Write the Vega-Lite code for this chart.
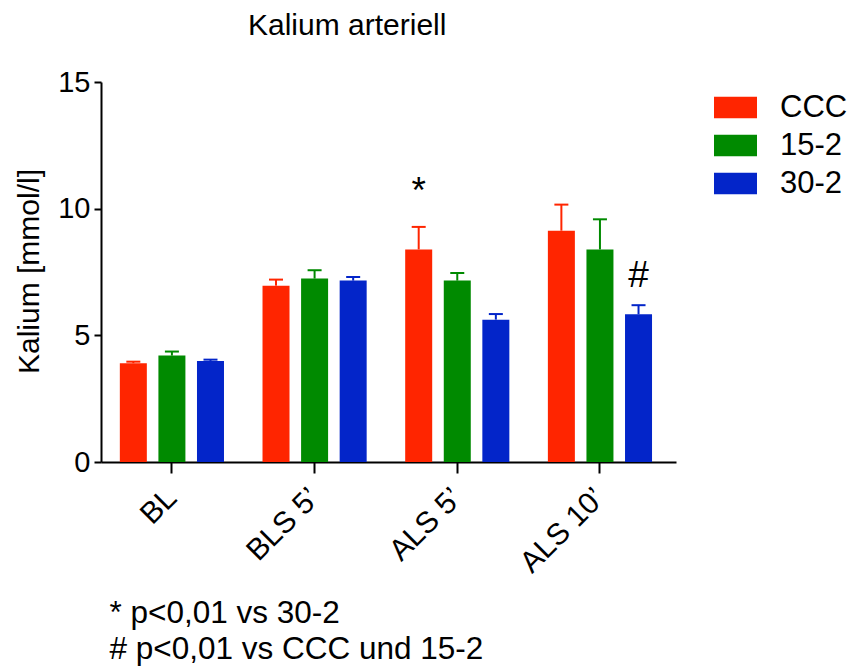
{
  "$schema": "https://vega.github.io/schema/vega-lite/v6.json",
  "width": 575,
  "height": 380,
  "autosize": {"type": "none"},
  "padding": {"left": 101, "top": 82, "right": 174, "bottom": 204},
  "background": "white",
  "config": {
    "font": "Liberation Sans",
    "view": {"stroke": null},
    "axis": {
      "grid": false,
      "domainColor": "black",
      "domainWidth": 2,
      "tickColor": "black",
      "tickWidth": 2,
      "labelColor": "black",
      "titleColor": "black",
      "labelFont": "Liberation Sans",
      "titleFont": "Liberation Sans",
      "titleFontWeight": "normal"
    }
  },
  "title": {
    "text": "Kalium arteriell",
    "anchor": "start",
    "frame": "group",
    "dx": 147,
    "fontSize": 30,
    "fontWeight": "normal",
    "font": "Liberation Sans",
    "color": "black",
    "baseline": "alphabetic",
    "offset": 3
  },
  "datasets": {
    "bars": [
      {"time": "BL", "group": "CCC", "mean": 3.90, "upper": 3.96},
      {"time": "BL", "group": "15-2", "mean": 4.20, "upper": 4.36},
      {"time": "BL", "group": "30-2", "mean": 3.99, "upper": 4.04},
      {"time": "BLS 5’", "group": "CCC", "mean": 6.96, "upper": 7.20},
      {"time": "BLS 5’", "group": "15-2", "mean": 7.24, "upper": 7.57},
      {"time": "BLS 5’", "group": "30-2", "mean": 7.16, "upper": 7.30},
      {"time": "ALS 5’", "group": "CCC", "mean": 8.39, "upper": 9.28},
      {"time": "ALS 5’", "group": "15-2", "mean": 7.16, "upper": 7.46},
      {"time": "ALS 5’", "group": "30-2", "mean": 5.62, "upper": 5.84},
      {"time": "ALS 10’", "group": "CCC", "mean": 9.13, "upper": 10.16},
      {"time": "ALS 10’", "group": "15-2", "mean": 8.39, "upper": 9.58},
      {"time": "ALS 10’", "group": "30-2", "mean": 5.83, "upper": 6.19}
    ],
    "notes": [
      {"time": "ALS 5’", "group": "CCC", "label": "*", "pos": 10.22},
      {"time": "ALS 10’", "group": "30-2", "label": "#", "pos": 6.9}
    ]
  },
  "encoding": {
    "x": {
      "field": "time",
      "type": "nominal",
      "sort": ["BL", "BLS 5’", "ALS 5’", "ALS 10’"],
      "scale": {"paddingInner": 0.27, "paddingOuter": 0.15, "align": 0.44},
      "axis": {
        "labelAngle": -45,
        "labelAlign": "right",
        "labelBaseline": "middle",
        "labelFontSize": 30,
        "labelPadding": 20,
        "tickSize": 11,
        "title": ["* p<0,01 vs 30-2", "# p<0,01 vs CCC und 15-2"],
        "titleFontSize": 31.5,
        "titleAlign": "left",
        "titleAnchor": "start",
        "titleAngle": 0,
        "titleBaseline": "top",
        "titleLineHeight": 36,
        "titleX": 8,
        "titleY": 135
      }
    },
    "xOffset": {
      "field": "group",
      "type": "nominal",
      "sort": ["CCC", "15-2", "30-2"],
      "scale": {"paddingInner": 0.3, "paddingOuter": 0}
    },
    "color": {
      "field": "group",
      "type": "nominal",
      "sort": ["CCC", "15-2", "30-2"],
      "scale": {"domain": ["CCC", "15-2", "30-2"], "range": ["#ff2500", "#008a00", "#0325c9"]},
      "legend": {
        "title": null,
        "orient": "none",
        "legendX": 613,
        "legendY": 4,
        "symbolType": "M-1,-0.5H1V0.5H-1Z",
        "symbolSize": 1849,
        "symbolStrokeWidth": 0,
        "symbolOpacity": 1,
        "labelFontSize": 31,
        "labelFont": "Liberation Sans",
        "labelColor": "black",
        "labelOffset": 23,
        "rowPadding": 1,
        "padding": 0
      }
    }
  },
  "layer": [
    {
      "data": {"name": "bars"},
      "mark": {"type": "bar", "opacity": 1},
      "encoding": {
        "y": {
          "field": "mean",
          "type": "quantitative",
          "scale": {"domain": [0, 15], "nice": false, "zero": true},
          "axis": {
            "values": [0, 5, 10, 15],
            "labelFontSize": 29,
            "labelPadding": 4,
            "tickSize": 7,
            "title": "Kalium [mmol/l]",
            "titleFontSize": 30,
            "titleAngle": -90,
            "titleBaseline": "middle",
            "titleAlign": "center",
            "titleX": -72,
            "titleY": 189
          }
        }
      }
    },
    {
      "data": {"name": "bars"},
      "mark": {"type": "rule", "strokeWidth": 2},
      "encoding": {
        "y": {"field": "mean", "type": "quantitative"},
        "y2": {"field": "upper"}
      }
    },
    {
      "data": {"name": "bars"},
      "mark": {"type": "tick", "orient": "horizontal", "size": 14, "thickness": 2, "opacity": 1},
      "encoding": {
        "y": {"field": "upper", "type": "quantitative"}
      }
    },
    {
      "data": {"name": "notes"},
      "mark": {"type": "text", "fontSize": 37, "baseline": "alphabetic", "align": "center", "color": "black", "font": "Liberation Sans"},
      "encoding": {
        "y": {"field": "pos", "type": "quantitative"},
        "text": {"field": "label", "type": "nominal"},
        "color": {"value": "black"}
      }
    }
  ]
}
